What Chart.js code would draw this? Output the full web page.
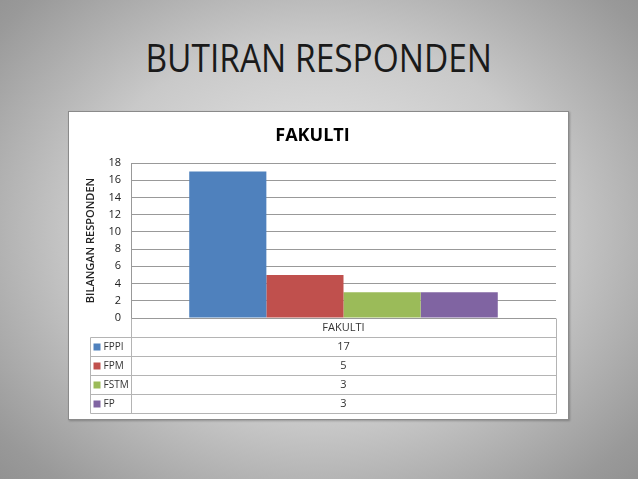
<!DOCTYPE html>
<html lang="ms">
<head>
<meta charset="UTF-8">
<title>Butiran Responden</title>
<script src="https://cdn.jsdelivr.net/npm/chart.js"></script>
<style>
  html, body { margin: 0; padding: 0; }
  body {
    width: 638px; height: 479px; overflow: hidden; position: relative;
    background: radial-gradient(ellipse 75% 80% at 50% 48%, #ececec 0%, #c9c9c9 50%, #999 85%, #8c8c8c 100%);
    font-family: 'Open Sans', sans-serif;
  }
  #slideTitle {
    position: absolute; left: 0; width: 638px; top: 38px;
    text-align: center; font-size: 38px; line-height: 38px; color: #1a1a1a;
  }
  #slideTitle span { display: inline-block; transform-origin: 50% 50%; }
  #panel {
    position: absolute; left: 68px; top: 111px; width: 499px; height: 307px;
    background: #fff; border: 1px solid #8a8a8a;
    box-shadow: 1px 1px 2px rgba(0,0,0,0.25);
  }
</style>
</head>
<body>
<div id="slideTitle"><span>BUTIRAN RESPONDEN</span></div>
<div id="panel"><canvas id="fakultiChart" width="499" height="307"></canvas></div>

<script>
// data
const categories = ['FAKULTI'];
const faculties = ['FPPI', 'FPM', 'FSTM', 'FP'];
const counts = [17, 5, 3, 3];
const barColors = ['#4f81bd', '#c0504d', '#9bbb59', '#8064a2'];

// squeeze the slide title to the reference width
const titleSpan = document.querySelector('#slideTitle span');
titleSpan.style.transform = 'scaleX(' + (347 / titleSpan.offsetWidth) + ')';

// data table under the plot (legend keys + values)
const dataTable = {
  id: 'dataTable',
  afterDraw(chart) {
    const { ctx, chartArea: a, scales } = chart;
    const rowH = 19, keyLeft = 21.5;
    const top = Math.round(a.bottom) + 0.5;
    const left = Math.round(a.left) + 0.5, right = Math.round(a.right) + 0.5;
    const sets = chart.data.datasets;
    const bottom = top + rowH * (sets.length + 1);

    ctx.save();
    ctx.strokeStyle = '#b4b4b4';
    ctx.lineWidth = 1;
    ctx.beginPath();
    for (let k = 1; k <= sets.length + 1; k++) {
      ctx.moveTo(keyLeft, top + rowH * k);
      ctx.lineTo(right, top + rowH * k);
    }
    ctx.moveTo(left, top); ctx.lineTo(left, bottom);
    ctx.moveTo(right, top); ctx.lineTo(right, bottom);
    ctx.moveTo(keyLeft, top + rowH); ctx.lineTo(keyLeft, bottom);
    ctx.stroke();

    ctx.font = '11px "Open Sans", sans-serif';
    ctx.fillStyle = '#333';
    ctx.textBaseline = 'middle';
    ctx.textAlign = 'center';
    chart.data.labels.forEach((lab, ci) => {
      const cx = scales.x.getPixelForValue(ci);
      ctx.fillText(lab, cx, top + rowH / 2);
      sets.forEach((ds, i) => {
        ctx.fillText(String(ds.data[ci]), cx, top + rowH * (i + 1.5));
      });
    });
    ctx.textAlign = 'left';
    ctx.font = '10px "Open Sans", sans-serif';
    sets.forEach((ds, i) => {
      const cy = top + rowH * (i + 1.5);
      ctx.fillStyle = ds.backgroundColor;
      ctx.fillRect(keyLeft + 3, cy - 3.5, 7, 7);
      ctx.fillStyle = '#333';
      ctx.fillText(ds.label, keyLeft + 13, cy);
    });
    ctx.restore();
  }
};

new Chart(document.getElementById('fakultiChart'), {
  type: 'bar',
  data: {
    labels: categories,
    datasets: faculties.map((name, i) => ({
      label: name,
      data: [counts[i]],
      backgroundColor: barColors[i],
      borderWidth: 0,
      barPercentage: 1,
      categoryPercentage: 0.726
    }))
  },
  options: {
    responsive: false,
    animation: false,
    layout: { padding: { left: 0, right: 12, top: 0, bottom: 0 } },
    plugins: {
      legend: { display: false },
      tooltip: { enabled: false },
      title: {
        display: true,
        text: 'FAKULTI',
        color: '#000',
        font: { family: "'Open Sans', sans-serif", size: 18, weight: 'bold' },
        padding: { top: 13, bottom: 16.4 }
      }
    },
    scales: {
      x: {
        ticks: { display: false },
        grid: { display: false },
        border: { display: false },
        afterFit(s) { s.height = 101; }
      },
      y: {
        min: 0,
        max: 18,
        ticks: {
          stepSize: 2,
          padding: 10,
          color: '#222',
          font: { family: "'Open Sans', sans-serif", size: 11 }
        },
        grid: { color: '#999', drawTicks: false },
        border: { display: true, color: '#999' },
        title: {
          display: true,
          text: 'BILANGAN RESPONDEN',
          color: '#222',
          font: { family: "'Open Sans', sans-serif", size: 11, weight: '600' },
          padding: { top: 15, bottom: 0 }
        },
        afterFit(s) { s.width = 62; }
      }
    }
  },
  plugins: [dataTable]
});
</script>
</body>
</html>
